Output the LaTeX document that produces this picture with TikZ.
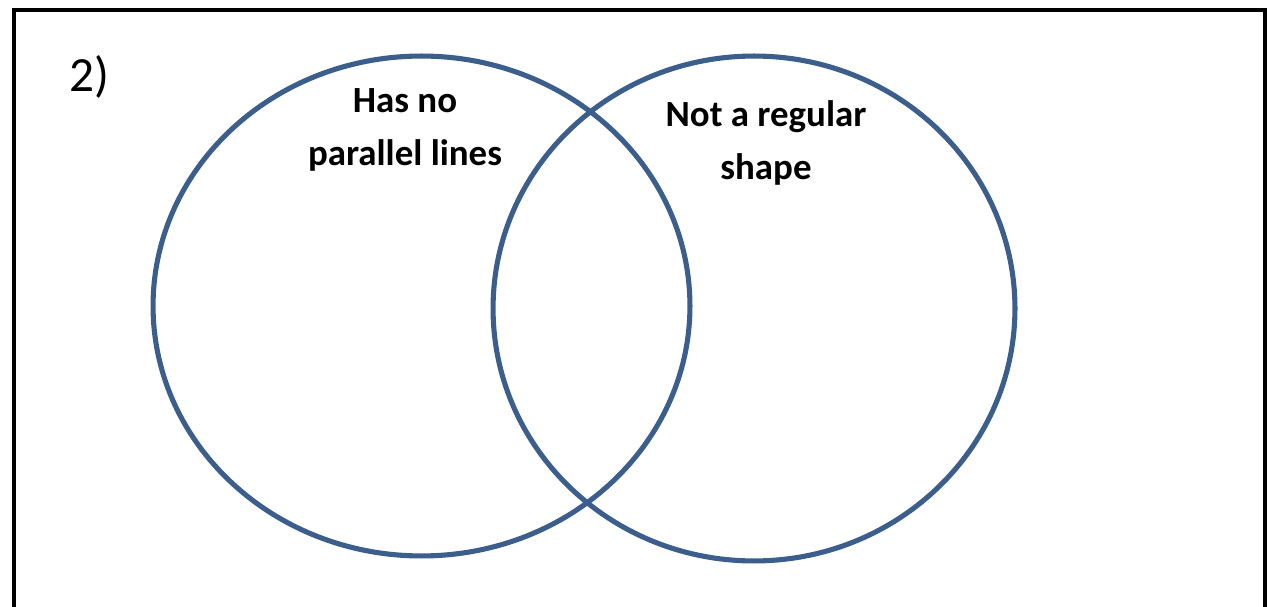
\documentclass[tikz,border=0pt]{standalone}
\usepackage{fontspec}
\setmainfont{Carlito}
\usetikzlibrary{shapes.geometric}
\definecolor{vennblue}{RGB}{59,94,140}

\begin{document}
\begin{tikzpicture}[
    x=0.02cm, y=-0.02cm,
    setcircle/.style={
        draw=vennblue,
        line width=2.9pt,
        ellipse,
        inner sep=0pt
    },
    settext/.style={
        align=center,
        font=\fontsize{21}{30}\selectfont\bfseries
    },
    frame/.style={draw=black, line width=2.3pt}
]

\useasboundingbox (0,0) rectangle (1270,607);
\clip (0,0) rectangle (1270,607);

\draw[frame] (14,10) rectangle (1265,660);

\node[font=\fontsize{28}{32}\selectfont] (number) at (89,77) {2)};

\node[setcircle, minimum width=10.74cm, minimum height=10.0cm] (no_parallel) at (421.5,306) {};
\node[setcircle, minimum width=10.44cm, minimum height=10.1cm] (not_regular) at (754,308.5) {};

\node[settext] (no_parallel_text) at (405,130) {Has no\\parallel lines};
\node[settext] (not_regular_text) at (766,143) {Not a regular\\shape};

\end{tikzpicture}
\end{document}
